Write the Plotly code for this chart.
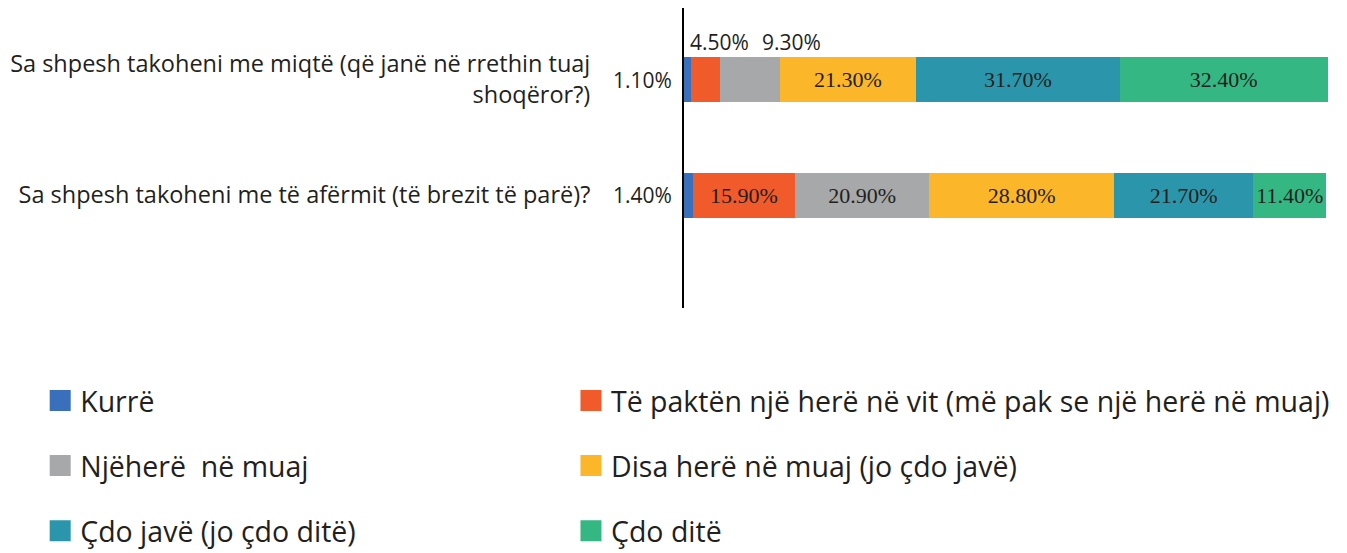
import plotly.graph_objects as go

categories = ["Sa shpesh takoheni me miqtë (që janë në rrethin tuaj<br>shoqëror?)",
              "Sa shpesh takoheni me të afërmit (të brezit të parë)?"]
series_names = ["Kurrë",
                "Të paktën një herë në vit (më pak se një herë në muaj)",
                "Njëherë  në muaj",
                "Disa herë në muaj (jo çdo javë)",
                "Çdo javë (jo çdo ditë)",
                "Çdo ditë"]
kurre = [1.1, 1.4]
pakten = [4.5, 15.9]
njehere = [9.3, 20.9]
disa = [21.3, 28.8]
cdo_jave = [31.7, 21.7]
cdo_dite = [32.4, 11.4]
colors = ["#3a6fbb", "#f15a2b", "#a6a8a9", "#fbb62a", "#2b96ab", "#34b783"]

series = [kurre, pakten, njehere, disa, cdo_jave, cdo_dite]
# which labels are drawn inside the bar (others are drawn as outside annotations)
inside = [[False, False], [False, True], [False, True], [True, True], [True, True], [True, True]]

TXT = "#231f20"
fig = go.Figure()
for name, vals, col, ins in zip(series_names, series, colors, inside):
    fig.add_trace(go.Bar(
        y=categories, x=vals, orientation="h", name=name,
        marker=dict(color=col, line=dict(width=0)),
        text=[f"{v:.2f}%" if i else "" for v, i in zip(vals, ins)],
        textposition="inside", insidetextanchor="middle",
        textfont=dict(family="Liberation Serif", size=22, color=TXT),
        width=0.39, showlegend=False, hoverinfo="skip"))

# legend-only traces (bigger squares)
legend_of = ["legend", "legend2", "legend", "legend2", "legend", "legend2"]
for name, col, lg in zip(series_names, colors, legend_of):
    fig.add_trace(go.Scatter(
        x=[None], y=[None], mode="markers", name=name, legend=lg, legendgroup=name,
        marker=dict(symbol="square", size=16, color=col, line=dict(color=col, width=5))))

# outside labels
ann = []
for ci, v in enumerate(kurre):
    ann.append(dict(x=0, y=categories[ci], xref="x", yref="y", text=f"{v:.2f}%",
                    showarrow=False, xanchor="right", xshift=-10,
                    font=dict(family="Open Sans", size=21, color=TXT)))
start_p = kurre[0]
start_n = kurre[0] + pakten[0]
ann.append(dict(x=start_p, y=categories[0], xref="x", yref="y", text=f"{pakten[0]:.2f}%",
                showarrow=False, xanchor="left", yshift=38, xshift=-3,
                font=dict(family="Open Sans", size=21, color=TXT)))
ann.append(dict(x=start_n, y=categories[0], xref="x", yref="y", text=f"{njehere[0]:.2f}%",
                showarrow=False, xanchor="left", yshift=38, xshift=40,
                font=dict(family="Open Sans", size=21, color=TXT)))

fig.update_layout(
    barmode="stack",
    width=1347, height=553,
    margin=dict(l=684, r=2, t=8, b=245, autoexpand=False),
    paper_bgcolor="white", plot_bgcolor="white",
    annotations=ann,
    xaxis=dict(visible=False, range=[0, 103]),
    yaxis=dict(type="category", categoryorder="array", categoryarray=categories,
               range=[1.978, -0.619], showline=True, linecolor="black", linewidth=2,
               ticks="", showgrid=False, zeroline=False, ticklabelstandoff=87,
               tickfont=dict(family="Open Sans", size=23.5, color=TXT)),
    legend=dict(x=-0.974, xanchor="left", y=-0.225, yanchor="top", orientation="v",
                tracegroupgap=25, font=dict(family="Open Sans", size=28.5, color=TXT),
                bgcolor="rgba(0,0,0,0)"),
    legend2=dict(x=-0.171, xanchor="left", y=-0.225, yanchor="top", orientation="v",
                 tracegroupgap=25, font=dict(family="Open Sans", size=28.5, color=TXT),
                 bgcolor="rgba(0,0,0,0)"),
    showlegend=True,
)
fig.write_html("out.html", config={"displayModeBar": False},
               post_script="document.body.style.margin='0';")
